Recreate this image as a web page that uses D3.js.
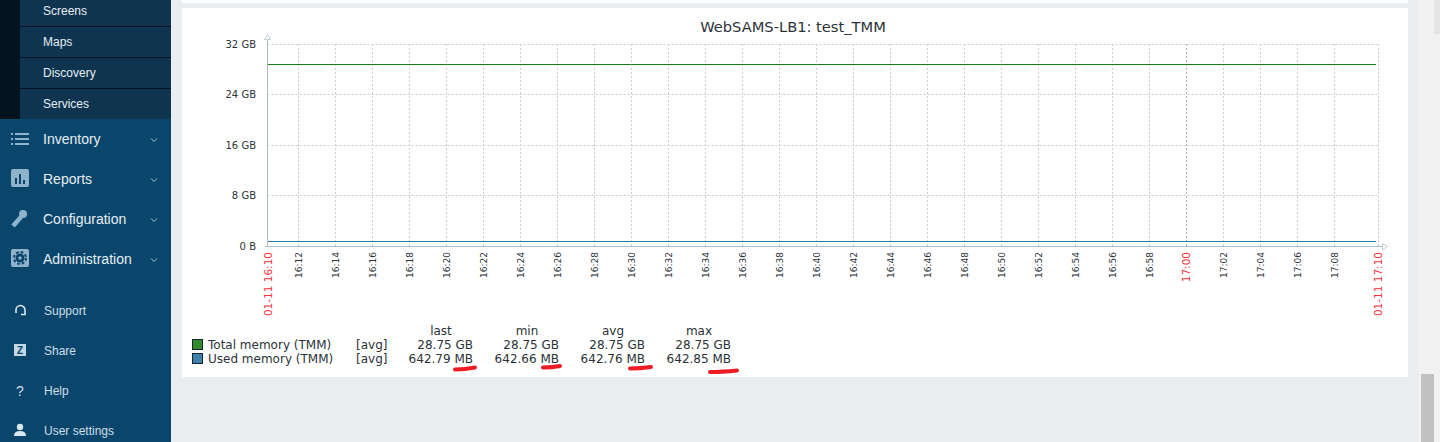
<!DOCTYPE html>
<html><head><meta charset="utf-8">
<style>html,body{margin:0;padding:0;background:#ebeef0;overflow:hidden}svg{display:block}text{white-space:pre}</style>
<script src="https://cdnjs.cloudflare.com/ajax/libs/d3/7.8.5/d3.min.js"></script></head><body>
<script>
const title="WebSAMS-LB1: test_TMM";
const yTicks=[0,8,16,24,32];
const yTickLabels=["0 B","8 GB","16 GB","24 GB","32 GB"];
const timeMinutes=[0.33,10,20,30,40,50,60.25];
const totalMemory=[28.75,28.75,28.75,28.75,28.75,28.75,28.75];
const usedMemory=[0.628,0.628,0.628,0.628,0.628,0.628,0.628];
const statHeads=["last","min","avg","max"];
const legendNames=["Total memory (TMM)","Used memory (TMM)"];
const totalStats=["28.75 GB","28.75 GB","28.75 GB","28.75 GB"];
const usedStats=["642.79 MB","642.66 MB","642.76 MB","642.85 MB"];
const subMenu=["Screens","Maps","Discovery","Services"];
const mainMenu=["Inventory","Reports","Configuration","Administration"];
const lowerMenu=["Support","Share","Help","User settings"];

const W=1440,H=442;
const svg=d3.select("body").append("svg").attr("width",W).attr("height",H);
const DJ="DejaVu Sans",LB="Liberation Sans";
const rect=(x,y,w,h,f)=>svg.append("rect").attr("x",x).attr("y",y).attr("width",w).attr("height",h).attr("fill",f);
const txt=(x,y,s,o={})=>svg.append("text").attr("x",x).attr("y",y).text(s)
  .attr("font-family",o.ff||DJ).attr("font-size",o.fs||11).attr("fill",o.c||"#2b3338")
  .attr("text-anchor",o.a||"start");

// page
rect(0,0,W,H,"#ebeef0");
rect(182,0,1226,3,"#ffffff");
rect(182,8,1226,369,"#ffffff");
rect(1419,0,21,H,"#f1f1f1");
rect(1421,374,13,68,"#c1c1c1");
rect(1434,0,6,34,"#e4e4e4");

// sidebar
rect(0,0,171,H,"#0a466b");
rect(0,0,20,119,"#04141f");
rect(20,0,151,119,"#0f344f");
subMenu.forEach((s,i)=>{
  txt(43,15+31*i,s,{ff:LB,fs:12,c:"#e6eef3"});
  if(i<3) rect(20,26+31*i,151,1,"#04141f");
});
mainMenu.forEach((s,i)=>{
  txt(43,144+40*i,s,{ff:LB,fs:14,c:"#e6eef3"});
  svg.append("path").attr("d",`M151 ${138.5+40*i}l3 3l3 -3`).attr("fill","none").attr("stroke","#a9c4d4").attr("stroke-width",1);
});
lowerMenu.forEach((s,i)=>txt(44,315+40*i,s,{ff:LB,fs:12,c:"#cfdfe8"}));
// sidebar icons
const ic="#8fb3ca";
[0,1,2].forEach(i=>{rect(11,133+5*i,2,2,ic);rect(15,133+5*i,14,2,ic)});
rect(11,169,18,18,ic).attr("rx",2);
[[15,178,2,6],[19,174,2,10],[23,180,2,4]].forEach(d=>rect(d[0],d[1],d[2],d[3],"#0a466b"));
svg.append("path").attr("d","M13 226 L21 217").attr("stroke",ic).attr("stroke-width",4.5);
svg.append("circle").attr("cx",23).attr("cy",214).attr("r",4).attr("fill",ic);
rect(11,249,18,18,ic).attr("rx",2);
svg.append("circle").attr("cx",20).attr("cy",258).attr("r",4.5).attr("fill","#0a466b");
svg.append("circle").attr("cx",20).attr("cy",258).attr("r",6).attr("fill","none").attr("stroke","#0a466b").attr("stroke-width",2).attr("stroke-dasharray","2.7,2");
svg.append("circle").attr("cx",20).attr("cy",258).attr("r",1.7).attr("fill",ic);
svg.append("path").attr("d","M16 313 v-3 a4.5 4.5 0 0 1 9 0 v3 M25 313 v1.5 h-4").attr("fill","none").attr("stroke","#dbe7ee").attr("stroke-width",1.6);
rect(14,344,12,12,"#c2d5e0");
txt(20,354,"Z",{ff:LB,fs:10,c:"#0a466b",a:"middle"}).attr("font-weight","bold");
txt(20,396,"?",{ff:LB,fs:14,c:"#cfdfe8",a:"middle"});
svg.append("circle").attr("cx",20).attr("cy",427).attr("r",3.2).attr("fill","#dbe7ee");
svg.append("path").attr("d","M14 436 q0 -5 6 -5 q6 0 6 5 z").attr("fill","#dbe7ee");

// chart
const x=d3.scaleLinear().domain([0.33,60.33]).range([267.5,1377.5]);
const y=d3.scaleLinear().domain([0,32]).range([245.5,43.5]);
const gy=d=>Math.ceil(y(d))+.5;
const dy=d=>Math.floor(y(d))+.5;
const grid="#c9d0d4";
txt(793,32,title,{fs:14.67,a:"middle",c:"#2b3338"});

const minuteTicks=d3.range(2,60,2);
const fmt=m=>{const t=970+m;return `${Math.floor(t/60)}:${String(t%60).padStart(2,"0")}`};

const g=svg.append("g");
g.selectAll(".h").data(yTicks.slice(1)).join("line")
  .attr("x1",267.5).attr("x2",1377.5).attr("y1",gy).attr("y2",gy)
  .attr("stroke",grid).attr("stroke-dasharray","2,2");
g.selectAll(".v").data(minuteTicks.concat([60.33])).join("line")
  .attr("x1",d=>Math.round(x(d))+.5).attr("x2",d=>Math.round(x(d))+.5).attr("y1",44).attr("y2",246)
  .attr("stroke",d=>d===50?"#aab6bd":grid).attr("stroke-dasharray","2,2");

const line=d3.line().x((d,i)=>x(timeMinutes[i])).y(dy);
svg.append("path").attr("d",line(totalMemory)).attr("fill","none").attr("stroke","#1a7c11").attr("stroke-width",1);
svg.append("path").attr("d",line(usedMemory)).attr("fill","none").attr("stroke","#2774a4").attr("stroke-width",1);

// axes
const axc="#acbbc2";
svg.append("line").attr("x1",267.5).attr("x2",267.5).attr("y1",40).attr("y2",247).attr("stroke",axc);
svg.append("line").attr("x1",265).attr("x2",1382).attr("y1",246.5).attr("y2",246.5).attr("stroke",axc);
svg.append("path").attr("d","M264.5 39.5 L267.5 34.5 L270.5 39.5 Z").attr("fill","#fff").attr("stroke","#c5ced3");
svg.append("path").attr("d","M1382.5 243.5 L1387.5 246.5 L1382.5 249.5 Z").attr("fill","#fff").attr("stroke","#c5ced3");

yTicks.forEach((d,i)=>txt(256,gy(d)+3.5,yTickLabels[i],{fs:10,a:"end"}));

const rot=(px,s,c,fs)=>svg.append("text")
  .attr("transform",`translate(${px},252) rotate(-90)`).attr("text-anchor","end")
  .attr("font-family",DJ).attr("font-size",fs).attr("fill",c).text(s);
minuteTicks.filter(m=>m!==50).forEach(m=>rot(x(m)+3.5,fmt(m),"#2b3338",9));
rot(x(50)+4,"17:00","#f0343a",10.5);
rot(271.5,"01-11 16:10","#f0343a",10.5);
rot(1381.5,"01-11 17:10","#f0343a",10.5);

// legend
const colX=[473,559,645,731], headX=[441,527,613,699];
[["#358a2c",legendNames[0],totalStats,349],["#3f7fac",legendNames[1],usedStats,363]].forEach(r=>{
  rect(192.5,r[3]-9.5,10,10,r[0]).attr("stroke","#14252f").attr("stroke-width",1);
  txt(208,r[3],r[1],{fs:12});
  txt(356,r[3],"[avg]",{fs:12});
  r[2].forEach((s,i)=>txt(colX[i],r[3],s,{fs:12,a:"end"}));
});
statHeads.forEach((s,i)=>txt(headX[i],335,s,{fs:12,a:"middle"}));

// red hand marks
[["M455 369.5 Q465 369.5 475 367.5"],["M543 367.5 Q552 367.5 560 366"],["M630 368.5 Q640 368.5 651 367"],["M710 372 Q722 372 737 370.5"]]
 .forEach(d=>svg.append("path").attr("d",d[0]).attr("fill","none").attr("stroke","#ee1c25").attr("stroke-width",4).attr("stroke-linecap","round"));
</script></body></html>
